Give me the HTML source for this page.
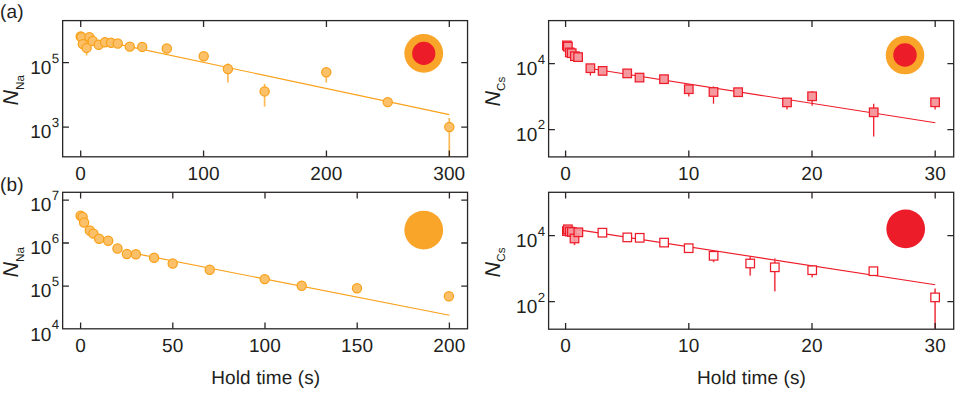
<!DOCTYPE html>
<html lang="en">
<head>
<meta charset="utf-8">
<title>Hold time decay figure</title>
<style>
html,body{margin:0;padding:0;background:#fff;}
body{width:959px;height:394px;overflow:hidden;}
svg{display:block;}
svg text{text-rendering:geometricPrecision;font-family:"Liberation Sans",sans-serif;font-size:19px;letter-spacing:0.15px;fill:#231F20;}
</style>
</head>
<body>
<svg width="959" height="394" viewBox="0 0 959 394">
<rect width="959" height="394" fill="#fff"/>
<text x="80.68" y="180.1" text-anchor="middle">0</text>
<text x="203.54" y="180.1" text-anchor="middle">100</text>
<text x="326.41" y="180.1" text-anchor="middle">200</text>
<text x="449.28" y="180.1" text-anchor="middle">300</text>
<text x="51.60" y="73.90" text-anchor="end">10</text>
<text x="51.75" y="62.50" style="font-size:13.3px">5</text>
<text x="51.60" y="138.40" text-anchor="end">10</text>
<text x="51.75" y="127.00" style="font-size:13.3px">3</text>
<path d="M117.7 44.1L449.3 114.6" stroke="#F9A11B" stroke-width="1.15" fill="none"/>
<circle cx="80.70" cy="36.40" r="4.6" fill="#FCC069" stroke="#F9A11B" stroke-width="1.25"/>
<circle cx="81.50" cy="37.30" r="4.6" fill="#FCC069" stroke="#F9A11B" stroke-width="1.25"/>
<circle cx="82.80" cy="44.10" r="4.6" fill="#FCC069" stroke="#F9A11B" stroke-width="1.25"/>
<circle cx="89.40" cy="37.10" r="4.6" fill="#FCC069" stroke="#F9A11B" stroke-width="1.25"/>
<path d="M86.60 44.00V55.50" stroke="#FBBA55" stroke-width="1.7"/>
<circle cx="86.60" cy="47.90" r="4.6" fill="#FCC069" stroke="#F9A11B" stroke-width="1.25"/>
<circle cx="92.70" cy="40.90" r="4.6" fill="#FCC069" stroke="#F9A11B" stroke-width="1.25"/>
<circle cx="98.70" cy="44.70" r="4.6" fill="#FCC069" stroke="#F9A11B" stroke-width="1.25"/>
<circle cx="105.00" cy="42.20" r="4.6" fill="#FCC069" stroke="#F9A11B" stroke-width="1.25"/>
<circle cx="111.10" cy="42.80" r="4.6" fill="#FCC069" stroke="#F9A11B" stroke-width="1.25"/>
<circle cx="117.70" cy="43.50" r="4.6" fill="#FCC069" stroke="#F9A11B" stroke-width="1.25"/>
<circle cx="129.80" cy="46.60" r="4.6" fill="#FCC069" stroke="#F9A11B" stroke-width="1.25"/>
<circle cx="142.20" cy="46.90" r="4.6" fill="#FCC069" stroke="#F9A11B" stroke-width="1.25"/>
<circle cx="166.80" cy="48.50" r="4.6" fill="#FCC069" stroke="#F9A11B" stroke-width="1.25"/>
<circle cx="203.70" cy="56.30" r="4.6" fill="#FCC069" stroke="#F9A11B" stroke-width="1.25"/>
<path d="M227.90 63.50V82.50" stroke="#FBBA55" stroke-width="1.7"/>
<circle cx="227.90" cy="69.00" r="4.6" fill="#FCC069" stroke="#F9A11B" stroke-width="1.25"/>
<path d="M264.60 83.80V106.60" stroke="#FBBA55" stroke-width="1.7"/>
<circle cx="264.60" cy="91.40" r="4.6" fill="#FCC069" stroke="#F9A11B" stroke-width="1.25"/>
<path d="M326.30 67.30V82.50" stroke="#FBBA55" stroke-width="1.7"/>
<circle cx="326.30" cy="72.30" r="4.6" fill="#FCC069" stroke="#F9A11B" stroke-width="1.25"/>
<circle cx="387.70" cy="102.10" r="4.6" fill="#FCC069" stroke="#F9A11B" stroke-width="1.25"/>
<path d="M449.30 118.00V156.00" stroke="#FBBA55" stroke-width="1.7"/>
<circle cx="449.30" cy="127.00" r="4.6" fill="#FCC069" stroke="#F9A11B" stroke-width="1.25"/>
<circle cx="423.75" cy="53.4" r="19.4" fill="#F9A529"/><circle cx="423.75" cy="53.4" r="11.6" fill="#ED1C29"/>
<text x="565.58" y="180.1" text-anchor="middle">0</text>
<text x="688.78" y="180.1" text-anchor="middle">10</text>
<text x="811.98" y="180.1" text-anchor="middle">20</text>
<text x="935.18" y="180.1" text-anchor="middle">30</text>
<text x="537.55" y="74.90" text-anchor="end">10</text>
<text x="537.70" y="63.50" style="font-size:13.3px">4</text>
<text x="537.55" y="140.80" text-anchor="end">10</text>
<text x="537.70" y="129.40" style="font-size:13.3px">2</text>
<path d="M590.4 68.5L935.3 122.8" stroke="#ED1C29" stroke-width="1.15" fill="none"/>
<rect x="562.62" y="41.12" width="8.55" height="8.55" fill="#F6999F" fill-opacity="1" stroke="#ED1C29" stroke-width="1.25"/>
<rect x="563.62" y="42.33" width="8.55" height="8.55" fill="#F6999F" fill-opacity="1" stroke="#ED1C29" stroke-width="1.25"/>
<rect x="565.52" y="48.12" width="8.55" height="8.55" fill="#F6999F" fill-opacity="1" stroke="#ED1C29" stroke-width="1.25"/>
<rect x="567.43" y="48.93" width="8.55" height="8.55" fill="#F6999F" fill-opacity="1" stroke="#ED1C29" stroke-width="1.25"/>
<rect x="570.62" y="51.93" width="8.55" height="8.55" fill="#F6999F" fill-opacity="1" stroke="#ED1C29" stroke-width="1.25"/>
<rect x="573.83" y="52.83" width="8.55" height="8.55" fill="#F6999F" fill-opacity="1" stroke="#ED1C29" stroke-width="1.25"/>
<path d="M590.40 64.00V75.60" stroke="#ED1C29" stroke-width="1.3"/>
<rect x="586.12" y="63.93" width="8.55" height="8.55" fill="#F6999F" fill-opacity="1" stroke="#ED1C29" stroke-width="1.25"/>
<rect x="598.33" y="66.62" width="8.55" height="8.55" fill="#F6999F" fill-opacity="1" stroke="#ED1C29" stroke-width="1.25"/>
<rect x="622.93" y="69.12" width="8.55" height="8.55" fill="#F6999F" fill-opacity="1" stroke="#ED1C29" stroke-width="1.25"/>
<rect x="635.23" y="73.32" width="8.55" height="8.55" fill="#F6999F" fill-opacity="1" stroke="#ED1C29" stroke-width="1.25"/>
<rect x="659.73" y="74.92" width="8.55" height="8.55" fill="#F6999F" fill-opacity="1" stroke="#ED1C29" stroke-width="1.25"/>
<path d="M688.80 85.00V96.60" stroke="#ED1C29" stroke-width="1.3"/>
<rect x="684.52" y="84.92" width="8.55" height="8.55" fill="#F6999F" fill-opacity="1" stroke="#ED1C29" stroke-width="1.25"/>
<path d="M713.50 86.40V103.70" stroke="#ED1C29" stroke-width="1.3"/>
<rect x="709.23" y="87.72" width="8.55" height="8.55" fill="#F6999F" fill-opacity="1" stroke="#ED1C29" stroke-width="1.25"/>
<rect x="733.83" y="87.92" width="8.55" height="8.55" fill="#F6999F" fill-opacity="1" stroke="#ED1C29" stroke-width="1.25"/>
<path d="M787.00 98.00V109.50" stroke="#ED1C29" stroke-width="1.3"/>
<rect x="782.73" y="98.12" width="8.55" height="8.55" fill="#F6999F" fill-opacity="1" stroke="#ED1C29" stroke-width="1.25"/>
<path d="M812.10 91.00V105.70" stroke="#ED1C29" stroke-width="1.3"/>
<rect x="807.83" y="92.02" width="8.55" height="8.55" fill="#F6999F" fill-opacity="1" stroke="#ED1C29" stroke-width="1.25"/>
<path d="M873.70 103.80V136.50" stroke="#ED1C29" stroke-width="1.3"/>
<rect x="869.43" y="108.02" width="8.55" height="8.55" fill="#F6999F" fill-opacity="1" stroke="#ED1C29" stroke-width="1.25"/>
<path d="M935.10 98.00V109.40" stroke="#ED1C29" stroke-width="1.3"/>
<rect x="930.83" y="98.02" width="8.55" height="8.55" fill="#F6999F" fill-opacity="1" stroke="#ED1C29" stroke-width="1.25"/>
<circle cx="905.0" cy="55.05" r="19.3" fill="#F9A529"/><circle cx="905.0" cy="55.05" r="11.75" fill="#ED1C29"/>
<text x="80.58" y="352.1" text-anchor="middle">0</text>
<text x="172.78" y="352.1" text-anchor="middle">50</text>
<text x="264.97" y="352.1" text-anchor="middle">100</text>
<text x="357.18" y="352.1" text-anchor="middle">150</text>
<text x="449.37" y="352.1" text-anchor="middle">200</text>
<text x="51.60" y="211.40" text-anchor="end">10</text>
<text x="51.75" y="200.00" style="font-size:13.3px">7</text>
<text x="51.60" y="254.20" text-anchor="end">10</text>
<text x="51.75" y="242.80" style="font-size:13.3px">6</text>
<text x="51.60" y="297.30" text-anchor="end">10</text>
<text x="51.75" y="285.90" style="font-size:13.3px">5</text>
<text x="51.60" y="340.80" text-anchor="end">10</text>
<text x="51.75" y="329.40" style="font-size:13.3px">4</text>
<path d="M135.9 253.6L449.5 315.3" stroke="#F9A11B" stroke-width="1.15" fill="none"/>
<circle cx="80.60" cy="215.80" r="4.6" fill="#FCC069" stroke="#F9A11B" stroke-width="1.25"/>
<circle cx="82.60" cy="217.00" r="4.6" fill="#FCC069" stroke="#F9A11B" stroke-width="1.25"/>
<circle cx="84.10" cy="222.50" r="4.6" fill="#FCC069" stroke="#F9A11B" stroke-width="1.25"/>
<circle cx="89.80" cy="230.50" r="4.6" fill="#FCC069" stroke="#F9A11B" stroke-width="1.25"/>
<circle cx="93.40" cy="233.60" r="4.6" fill="#FCC069" stroke="#F9A11B" stroke-width="1.25"/>
<circle cx="99.10" cy="238.80" r="4.6" fill="#FCC069" stroke="#F9A11B" stroke-width="1.25"/>
<circle cx="108.20" cy="240.70" r="4.6" fill="#FCC069" stroke="#F9A11B" stroke-width="1.25"/>
<circle cx="117.50" cy="248.50" r="4.6" fill="#FCC069" stroke="#F9A11B" stroke-width="1.25"/>
<circle cx="126.90" cy="254.00" r="4.6" fill="#FCC069" stroke="#F9A11B" stroke-width="1.25"/>
<circle cx="135.90" cy="254.30" r="4.6" fill="#FCC069" stroke="#F9A11B" stroke-width="1.25"/>
<circle cx="154.10" cy="257.70" r="4.6" fill="#FCC069" stroke="#F9A11B" stroke-width="1.25"/>
<circle cx="172.70" cy="263.50" r="4.6" fill="#FCC069" stroke="#F9A11B" stroke-width="1.25"/>
<circle cx="209.70" cy="269.70" r="4.6" fill="#FCC069" stroke="#F9A11B" stroke-width="1.25"/>
<circle cx="264.70" cy="279.10" r="4.6" fill="#FCC069" stroke="#F9A11B" stroke-width="1.25"/>
<circle cx="301.70" cy="285.70" r="4.6" fill="#FCC069" stroke="#F9A11B" stroke-width="1.25"/>
<circle cx="357.00" cy="288.30" r="4.6" fill="#FCC069" stroke="#F9A11B" stroke-width="1.25"/>
<circle cx="448.90" cy="296.30" r="4.6" fill="#FCC069" stroke="#F9A11B" stroke-width="1.25"/>
<circle cx="423.75" cy="230.05" r="19.4" fill="#F9A529"/>
<text x="565.58" y="352.1" text-anchor="middle">0</text>
<text x="688.78" y="352.1" text-anchor="middle">10</text>
<text x="811.98" y="352.1" text-anchor="middle">20</text>
<text x="935.18" y="352.1" text-anchor="middle">30</text>
<text x="537.55" y="246.90" text-anchor="end">10</text>
<text x="537.70" y="235.50" style="font-size:13.3px">4</text>
<text x="537.55" y="312.90" text-anchor="end">10</text>
<text x="537.70" y="301.50" style="font-size:13.3px">2</text>
<path d="M566 227.9L935.2 284.8" stroke="#ED1C29" stroke-width="1.15" fill="none"/>
<rect x="562.62" y="226.82" width="8.55" height="8.55" fill="#F6999F" fill-opacity="0.85" stroke="#ED1C29" stroke-width="1.25"/>
<rect x="563.62" y="225.03" width="8.55" height="8.55" fill="#F6999F" fill-opacity="0.85" stroke="#ED1C29" stroke-width="1.25"/>
<rect x="565.52" y="227.32" width="8.55" height="8.55" fill="#F6999F" fill-opacity="0.85" stroke="#ED1C29" stroke-width="1.25"/>
<rect x="567.62" y="227.72" width="8.55" height="8.55" fill="#F6999F" fill-opacity="0.85" stroke="#ED1C29" stroke-width="1.25"/>
<path d="M574.50 233.00V245.20" stroke="#F04852" stroke-width="1.7"/>
<rect x="570.23" y="234.22" width="8.55" height="8.55" fill="#F6999F" fill-opacity="0.9" stroke="#ED1C29" stroke-width="1.25"/>
<rect x="574.08" y="228.03" width="8.55" height="8.55" fill="#F6999F" fill-opacity="0.9" stroke="#ED1C29" stroke-width="1.25"/>
<rect x="598.12" y="228.42" width="8.55" height="8.55" fill="#FFFFFF" fill-opacity="1" stroke="#ED1C29" stroke-width="1.25"/>
<rect x="623.02" y="233.12" width="8.55" height="8.55" fill="#FFFFFF" fill-opacity="1" stroke="#ED1C29" stroke-width="1.25"/>
<rect x="635.43" y="233.53" width="8.55" height="8.55" fill="#FFFFFF" fill-opacity="1" stroke="#ED1C29" stroke-width="1.25"/>
<rect x="659.83" y="238.32" width="8.55" height="8.55" fill="#FFFFFF" fill-opacity="1" stroke="#ED1C29" stroke-width="1.25"/>
<rect x="684.43" y="243.92" width="8.55" height="8.55" fill="#FFFFFF" fill-opacity="1" stroke="#ED1C29" stroke-width="1.25"/>
<path d="M713.60 251.00V262.20" stroke="#F04852" stroke-width="1.7"/>
<rect x="709.33" y="251.53" width="8.55" height="8.55" fill="#FFFFFF" fill-opacity="1" stroke="#ED1C29" stroke-width="1.25"/>
<path d="M750.20 257.00V275.60" stroke="#F04852" stroke-width="1.7"/>
<rect x="745.93" y="259.23" width="8.55" height="8.55" fill="#FFFFFF" fill-opacity="1" stroke="#ED1C29" stroke-width="1.25"/>
<path d="M774.80 258.40V291.40" stroke="#F04852" stroke-width="1.7"/>
<rect x="770.52" y="263.03" width="8.55" height="8.55" fill="#FFFFFF" fill-opacity="1" stroke="#ED1C29" stroke-width="1.25"/>
<path d="M812.20 265.00V277.40" stroke="#F04852" stroke-width="1.7"/>
<rect x="807.93" y="265.93" width="8.55" height="8.55" fill="#FFFFFF" fill-opacity="1" stroke="#ED1C29" stroke-width="1.25"/>
<rect x="869.12" y="266.93" width="8.55" height="8.55" fill="#FFFFFF" fill-opacity="1" stroke="#ED1C29" stroke-width="1.25"/>
<path d="M935.10 288.50V328.50" stroke="#F04852" stroke-width="1.7"/>
<rect x="930.83" y="293.12" width="8.55" height="8.55" fill="#FFFFFF" fill-opacity="1" stroke="#ED1C29" stroke-width="1.25"/>
<circle cx="905.7" cy="228.8" r="19.35" fill="#ED1C29"/>
<text x="0.1" y="17.6" style="font-size:19px">(a)</text>
<text x="0.1" y="191.2" style="font-size:19px">(b)</text>
<text x="265.8" y="384.25" text-anchor="middle" style="letter-spacing:0.1px">Hold time (s)</text>
<text x="751.5" y="384.25" text-anchor="middle" style="letter-spacing:0.1px">Hold time (s)</text>
<text transform="translate(18.0 105.6) rotate(-90)" style="font-size:21.5px"><tspan font-style="italic">N</tspan><tspan style="font-size:11.6px" dy="5.5">Na</tspan></text>
<text transform="translate(499.8 106.6) rotate(-90)" style="font-size:21.5px"><tspan font-style="italic">N</tspan><tspan style="font-size:11.6px" dy="5.5">Cs</tspan></text>
<text transform="translate(18.0 277.6) rotate(-90)" style="font-size:21.5px"><tspan font-style="italic">N</tspan><tspan style="font-size:11.6px" dy="5.5">Na</tspan></text>
<text transform="translate(499.8 277.5) rotate(-90)" style="font-size:21.5px"><tspan font-style="italic">N</tspan><tspan style="font-size:11.6px" dy="5.5">Cs</tspan></text>
<rect x="62.65" y="20.6" width="404.90" height="136.20" fill="none" stroke="#2A2627" stroke-width="1.3"/>
<path d="M80.70 156.8v-6.3M80.70 20.6v6.3M203.57 156.8v-6.3M203.57 20.6v6.3M326.44 156.8v-6.3M326.44 20.6v6.3M449.31 156.8v-6.3M449.31 20.6v6.3M62.65 62.70h6.3M467.55 62.70h-6.3M62.65 127.20h6.3M467.55 127.20h-6.3" stroke="#2A2627" stroke-width="1.3" fill="none"/>
<rect x="548.6" y="20.6" width="405.10" height="136.30" fill="none" stroke="#2A2627" stroke-width="1.3"/>
<path d="M565.60 156.9v-6.3M565.60 20.6v6.3M688.80 156.9v-6.3M688.80 20.6v6.3M812.00 156.9v-6.3M812.00 20.6v6.3M935.20 156.9v-6.3M935.20 20.6v6.3M548.6 63.70h6.3M953.7 63.70h-6.3M548.6 129.60h6.3M953.7 129.60h-6.3" stroke="#2A2627" stroke-width="1.3" fill="none"/>
<rect x="62.65" y="192.3" width="404.90" height="136.50" fill="none" stroke="#2A2627" stroke-width="1.3"/>
<path d="M80.60 328.8v-6.3M80.60 192.3v6.3M172.80 328.8v-6.3M172.80 192.3v6.3M265.00 328.8v-6.3M265.00 192.3v6.3M357.20 328.8v-6.3M357.20 192.3v6.3M449.40 328.8v-6.3M449.40 192.3v6.3M62.65 200.20h6.3M467.55 200.20h-6.3M62.65 243.00h6.3M467.55 243.00h-6.3M62.65 286.10h6.3M467.55 286.10h-6.3" stroke="#2A2627" stroke-width="1.3" fill="none"/>
<rect x="548.6" y="192.3" width="405.10" height="136.90" fill="none" stroke="#2A2627" stroke-width="1.3"/>
<path d="M565.60 329.2v-6.3M565.60 192.3v6.3M688.80 329.2v-6.3M688.80 192.3v6.3M812.00 329.2v-6.3M812.00 192.3v6.3M935.20 329.2v-6.3M935.20 192.3v6.3M548.6 235.70h6.3M953.7 235.70h-6.3M548.6 301.70h6.3M953.7 301.70h-6.3" stroke="#2A2627" stroke-width="1.3" fill="none"/>
</svg>
</body>
</html>
